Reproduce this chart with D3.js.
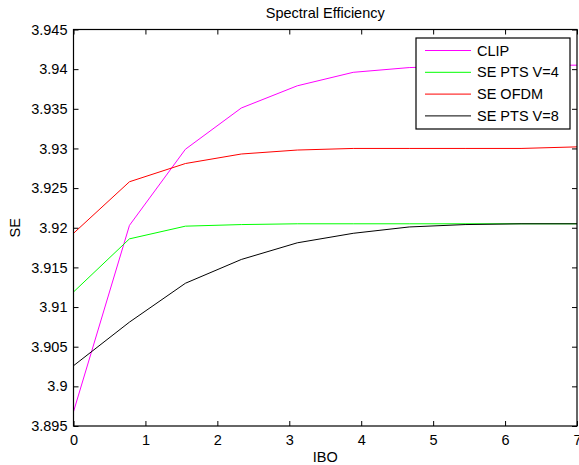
<!DOCTYPE html>
<html>
<head>
<meta charset="utf-8">
<script src="https://cdn.jsdelivr.net/npm/d3@7"></script>
<style>
  body { margin: 0; background: #fff; }
  text { font-family: "Liberation Sans", Arial, sans-serif; fill: #000; }
</style>
</head>
<body>
<div id="chart"></div>
<script>
// IBO values (10 points from 0 to 7)
var ibo = [0, 0.778, 1.556, 2.333, 3.111, 3.889, 4.667, 5.444, 6.222, 7];

var clip = [3.8968, 3.9203, 3.9299, 3.9351, 3.9379, 3.9396, 3.9402, 3.9404, 3.9405, 3.9405];
var ptsV4 = [3.9119, 3.9186, 3.9202, 3.9204, 3.9205, 3.9205, 3.9205, 3.9205, 3.9205, 3.9205];
var ofdm = [3.9193, 3.9258, 3.9281, 3.9293, 3.9298, 3.9300, 3.9300, 3.9300, 3.9300, 3.9302];
var ptsV8 = [3.9026, 3.9081, 3.9130, 3.9160, 3.9181, 3.9193, 3.9201, 3.9204, 3.9205, 3.9205];

var seriesNames = ["CLIP", "SE PTS V=4", "SE OFDM", "SE PTS V=8"];
var seriesColors = ["#ff00ff", "#00ff00", "#ff0000", "#000000"];
var seriesData = [clip, ptsV4, ofdm, ptsV8];

var xTicks = [0, 1, 2, 3, 4, 5, 6, 7];
var yTicks = [3.895, 3.9, 3.905, 3.91, 3.915, 3.92, 3.925, 3.93, 3.935, 3.94, 3.945];

var svgWidth = 579, svgHeight = 465;
var margin = { top: 29.5, right: 2, bottom: 39, left: 73.5 };
var width = svgWidth - margin.left - margin.right;
var height = svgHeight - margin.top - margin.bottom;

var svg = d3.select("#chart")
  .append("svg")
  .attr("width", svgWidth)
  .attr("height", svgHeight);

var chartGroup = svg.append("g")
  .attr("transform", `translate(${margin.left}, ${margin.top})`);

var xScale = d3.scaleLinear().domain([0, 7]).range([0, width]);
var yScale = d3.scaleLinear().domain([3.895, 3.945]).range([height, 0]);

var fmtY = d => String(+d.toFixed(3));

// axes, ticks point inward
chartGroup.append("g")
  .attr("class", "axis")
  .attr("transform", `translate(0, ${height})`)
  .call(d3.axisBottom(xScale).tickValues(xTicks).tickFormat(d3.format("d"))
    .tickSizeInner(-5).tickSizeOuter(0).tickPadding(9));

chartGroup.append("g")
  .attr("class", "axis")
  .call(d3.axisLeft(yScale).tickValues(yTicks).tickFormat(fmtY)
    .tickSizeInner(-5).tickSizeOuter(0).tickPadding(6));

// mirrored ticks top / right
chartGroup.append("g")
  .attr("class", "axis")
  .call(d3.axisTop(xScale).tickValues(xTicks).tickSizeInner(-5).tickSizeOuter(0).tickFormat(""));

chartGroup.append("g")
  .attr("class", "axis")
  .attr("transform", `translate(${width}, 0)`)
  .call(d3.axisRight(yScale).tickValues(yTicks).tickSizeInner(-5).tickSizeOuter(0).tickFormat(""));

chartGroup.selectAll(".axis .domain").remove();
chartGroup.selectAll(".axis text")
  .style("font-size", "14.5px")
  .style("font-family", "'Liberation Sans', Arial, sans-serif");

// lines
var line = d3.line()
  .x((d, i) => xScale(ibo[i]))
  .y(d => yScale(d));

seriesData.forEach(function(s, k) {
  chartGroup.append("path")
    .datum(s)
    .attr("fill", "none")
    .attr("stroke", seriesColors[k])
    .attr("stroke-width", 1)
    .attr("d", line);
});

// box
chartGroup.append("rect")
  .attr("width", width)
  .attr("height", height)
  .attr("fill", "none")
  .attr("stroke", "#000")
  .attr("stroke-width", 1.2);

// title and labels
svg.append("text")
  .attr("x", margin.left + width / 2)
  .attr("y", 18)
  .style("text-anchor", "middle")
  .style("font-size", "14.5px")
  .text("Spectral Efficiency");

svg.append("text")
  .attr("x", margin.left + width / 2)
  .attr("y", 462)
  .style("text-anchor", "middle")
  .style("font-size", "14.5px")
  .text("IBO");

svg.append("text")
  .attr("transform", `translate(20, ${margin.top + height / 2}) rotate(-90)`)
  .style("text-anchor", "middle")
  .style("font-size", "14.5px")
  .text("SE");

// legend
var legend = svg.append("g")
  .attr("transform", "translate(416, 38)");

legend.append("rect")
  .attr("width", 154)
  .attr("height", 91)
  .attr("fill", "#fff")
  .attr("stroke", "#000")
  .attr("stroke-width", 1.2);

seriesNames.forEach(function(name, k) {
  var yy = 12.5 + k * 21.8;
  legend.append("line")
    .attr("x1", 9).attr("x2", 55)
    .attr("y1", yy).attr("y2", yy)
    .attr("stroke", seriesColors[k])
    .attr("stroke-width", 1);
  legend.append("text")
    .attr("x", 61)
    .attr("y", yy + 5)
    .style("font-size", "14.5px")
    .text(name);
});
</script>
</body>
</html>
